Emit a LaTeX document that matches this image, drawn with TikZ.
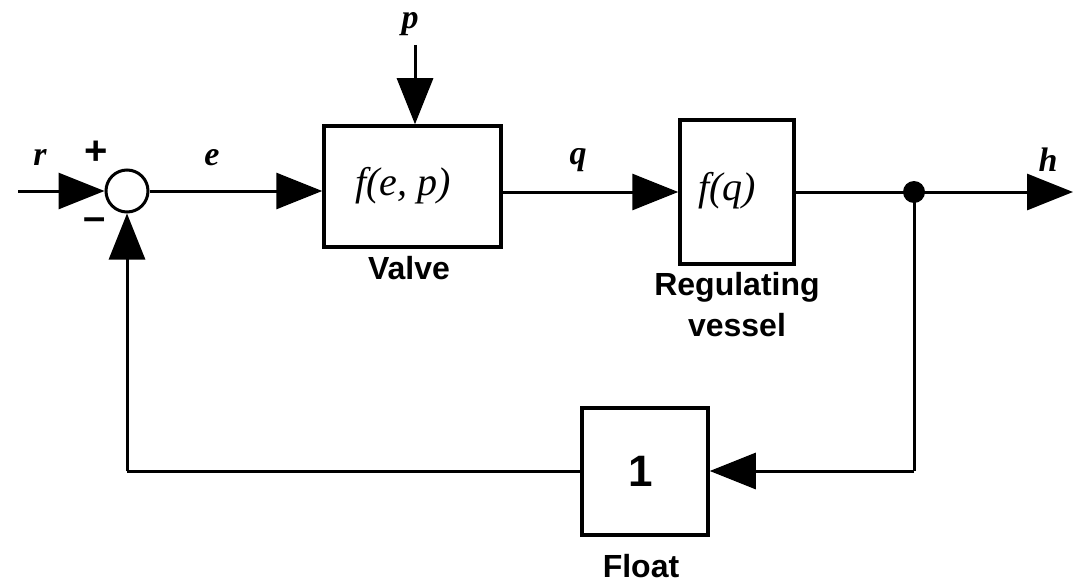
\documentclass[tikz,border=0pt]{standalone}
\usepackage{fontspec}
\setmainfont{Liberation Serif}
\setsansfont{Liberation Sans}
\usetikzlibrary{arrows.meta}
\tikzset{
  blk/.style={draw, line width=3.5pt, inner sep=0pt},
  wire/.style={line width=3pt},
  arr/.style={wire, -{Triangle[length=46pt, width=36pt]}},
  var/.style={font=\fontsize{34}{38}\selectfont\bfseries\itshape},
  fun/.style={font=\fontsize{40}{44}\selectfont\itshape},
  lbl/.style={font=\fontsize{32}{37}\selectfont\sffamily\bfseries, align=center},
  sgn/.style={font=\fontsize{40}{44}\selectfont\sffamily\bfseries},
}
\begin{document}
\begin{tikzpicture}[x=1pt,y=-1pt]
\useasboundingbox (0,0) rectangle (1073,583);
% blocks
\node[draw, circle, line width=3pt, minimum size=42pt, inner sep=0pt] (sum) at (127,191) {};
\node[blk, minimum width=177pt, minimum height=121pt] (valve) at (412.5,186.5) {};
\node[blk, minimum width=114pt, minimum height=144pt] (vessel) at (737,192) {};
\node[blk, minimum width=126pt, minimum height=127pt] (float) at (645,471.5) {};
\node[circle, fill=black, minimum size=22pt, inner sep=0pt] (dot) at (914,192) {};
% free ends
\coordinate (rin) at (18,191);
\coordinate (pin) at (415,45);
\coordinate (hout) at (1073,192);
\coordinate (c1) at (914,471);
\coordinate (c2) at (127,471);
% connectors
\draw[arr] (rin) -- (sum.west);
\draw[arr] (sum.east) -- (sum.east -| valve.west);
\draw[arr] (pin) -- (pin |- valve.north);
\draw[arr] (valve.east |- vessel.west) -- (vessel.west);
\draw[wire] (vessel.east) -- (dot.center);
\draw[arr] (dot.center) -- (hout);
\draw[wire] (dot.center) -- (c1);
\draw[arr] (c1) -- (float.east |- c1);
\draw[wire] (float.west |- c2) -- (c2);
\draw[arr] (c2) -- (sum.south);
% labels
\node[var] (lr) at (40,157) {r};
\node[sgn] (lplus) at (96,153) {+};
\node[sgn] (lminus) at (95,224) {–};
\node[var] (le) at (212,158) {e};
\node[var] (lp) at (410,24) {p};
\node[var] (lq) at (578,160) {q};
\node[var] (lh) at (1048,160) {h};
\node[fun] (tv) at (403,186) {f(e, p)};
\node[fun] (tq) at (727,191) {f(q)};
\node[lbl] (nvalve) at (409,268) {Valve};
\node[lbl] (nreg) at (737,287) {Regulating};
\node[lbl] (nves) at (737,325) {vessel};
\node[font=\fontsize{44}{48}\selectfont\sffamily\bfseries] (tone) at (641,471) {1};
\node[lbl] (nfloat) at (641,566) {Float};
\end{tikzpicture}
\end{document}
